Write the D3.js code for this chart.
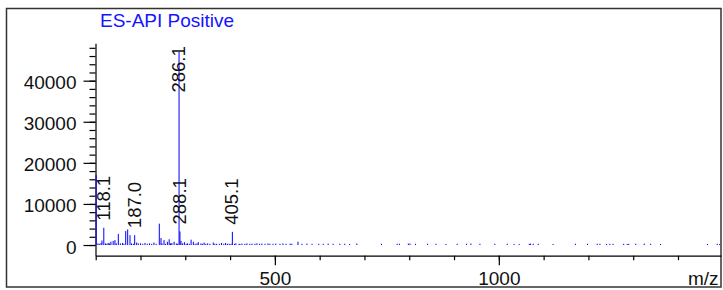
<!DOCTYPE html>
<meta charset="utf-8">

<style>
  body { margin: 0; background: white; }
  text { font-family: Arial, "Liberation Sans", sans-serif; }
  .axis path, .axis line { stroke: black; stroke-width: 1.2; }
  .axis text { font-size: 19px; fill: #111; }
  .peak { stroke: #0000ff; stroke-width: 1; }
  .frame { fill: none; stroke: #333; stroke-width: 1.5; }
</style>

<body>
  <script src="https://d3js.org/d3.v7.min.js"></script>

  <script>
    var width = 723,
        height = 290;

    var title = "ES-API Positive";
    var xLabel = "m/z";

    // spectrum: m/z and intensity
    var peakMz = [
      101, 105, 108, 112, 114, 118.1, 122, 125, 128, 131, 134, 139, 143, 146, 150.5, 155, 160, 163,
      167, 171.4, 176.6, 180, 184, 187.0, 191.5, 195, 200, 205, 210, 215, 220, 225, 230, 235,
      242, 245.8, 248, 252.5, 256, 260, 264, 267, 270, 275, 280, 283, 286.1, 288.1, 290.4, 294,
      298, 302, 305, 309, 313, 318, 322, 326, 329, 335, 338, 342, 346, 350, 355, 362.5, 366,
      370, 376, 381, 386, 390, 394, 398, 402, 405.1, 410,
      413, 420, 422, 426.6, 433, 437.7, 444, 449, 455.6, 460, 466, 471, 478, 484.6, 489, 495.8,
      502, 511.4, 518, 525, 534, 538, 551.6, 560.5, 571.7, 583, 598, 608, 619, 630, 645, 656,
      667, 683, 738, 773, 778, 798, 801.6, 814, 841, 859.6, 882, 907, 928, 937.7, 957.8, 991,
      1018.8, 1034, 1045.5, 1068, 1071, 1076.8, 1088, 1121, 1171, 1198, 1219.6, 1225.7, 1240.6,
      1248, 1255, 1278.8, 1286.6, 1290, 1305.6, 1324.6, 1339, 1361, 1466, 1487.5, 1493
    ];
    var peakIntensity = [
      17000, 400, 300, 500, 1100, 4200, 400, 300, 500, 400, 800, 1000, 1200, 400, 2700, 400, 500, 300,
      3400, 3800, 2400, 400, 300, 2400, 600, 400, 400, 300, 500, 300, 400, 300, 600, 300,
      5200, 1700, 400, 1200, 300, 800, 1400, 400, 500, 800, 400, 300, 47000, 3300, 1000, 400,
      700, 300, 400, 300, 1300, 800, 300, 400, 700, 400, 300, 600, 300, 400, 300, 600, 300,
      300, 300, 500, 300, 500, 300, 300, 300, 3200, 300,
      400, 300, 250, 350, 300, 400, 300, 350, 300, 400, 300, 350, 300, 400, 300, 300,
      350, 300, 400, 300, 350, 300, 800, 300, 350, 300, 300, 300, 350, 300, 300, 300,
      250, 350, 300, 300, 300, 350, 350, 300, 300, 300, 250, 300, 300, 350, 300, 300,
      300, 250, 250, 300, 350, 300, 300, 250, 300, 300, 300, 300, 250,
      300, 300, 300, 250, 300, 300, 350, 300, 250, 250, 300, 250
    ];

    var labelMz = [118.1, 187.0, 286.1, 288.1, 405.1];
    var labelText = ["118.1", "187.0", "286.1", "288.1", "405.1"];

    var yMajorTicks = [0, 10000, 20000, 30000, 40000];
    var yMinorTicks = d3.range(0, 49000, 2000);
    var xMinorTicks = d3.range(100, 1500, 100);
    var xMajorTicks = [500, 1000];

    var svg = d3.select("body").append("svg")
                .attr("width", width)
                .attr("height", height);

    var x = d3.scaleLinear().domain([100, 1496]).range([95.7, 721]);
    var y = d3.scaleLinear().domain([-2600, 49100]).range([255.7, 43.3]);

    svg.append("rect")
       .attr("class", "frame")
       .attr("x", 6.5).attr("y", 8.5)
       .attr("width", 714.5).attr("height", 278.5);

    svg.append("text")
       .attr("x", 100).attr("y", 26.5)
       .style("font-size", "19px")
       .style("fill", "#1414ff")
       .text(title);

    // y axis: minor then major ticks
    svg.append("g")
       .attr("class", "axis")
       .attr("transform", "translate(95.5,0)")
       .call(d3.axisLeft(y).tickValues(yMinorTicks).tickSize(6).tickSizeOuter(0).tickFormat(""));

    var yAxis = svg.append("g")
       .attr("class", "axis")
       .attr("transform", "translate(95.5,0)")
       .call(d3.axisLeft(y).tickValues(yMajorTicks).tickSize(12).tickPadding(7).tickSizeOuter(0).tickFormat(d3.format("d")));
    yAxis.select(".domain").remove();
    yAxis.selectAll("text").attr("dy", "0.42em");

    // x axis
    svg.append("g")
       .attr("class", "axis")
       .attr("transform", "translate(0,255.7)")
       .call(d3.axisBottom(x).tickValues(xMinorTicks).tickSize(4.5).tickSizeOuter(0).tickFormat(""));

    var xAxis = svg.append("g")
       .attr("class", "axis")
       .attr("transform", "translate(0,255.7)")
       .call(d3.axisBottom(x).tickValues(xMajorTicks).tickSize(9.5).tickPadding(6).tickSizeOuter(0).tickFormat(d3.format("d")));
    xAxis.select(".domain").remove();

    svg.append("text")
       .attr("x", 688).attr("y", 285)
       .style("font-size", "19px")
       .style("fill", "#111")
       .text(xLabel);

    // peaks
    svg.selectAll("line.peak")
       .data(peakMz)
       .enter()
       .append("line")
       .attr("class", "peak")
       .attr("x1", function(d) { return x(d); })
       .attr("x2", function(d) { return x(d); })
       .attr("y1", y(0))
       .attr("y2", function(d, i) { return y(peakIntensity[i]); });

    // peak labels, rotated, kept inside the plot
    var labels = svg.selectAll("text.peaklabel")
       .data(labelMz)
       .enter()
       .append("text")
       .attr("class", "peaklabel")
       .style("font-size", "18.5px")
       .style("fill", "#111")
       .attr("dy", "0.35em")
       .text(function(d, i) { return labelText[i]; });

    labels.each(function(d) {
      var len = this.getComputedTextLength();
      var inten = peakIntensity[peakMz.indexOf(d)];
      var bottom = Math.max(y(inten) - 7, y.range()[1] + 3 + len);
      d3.select(this).attr("transform", "translate(" + (x(d) - 0.5) + "," + bottom + ") rotate(-90)");
    });
  </script>
</body>
